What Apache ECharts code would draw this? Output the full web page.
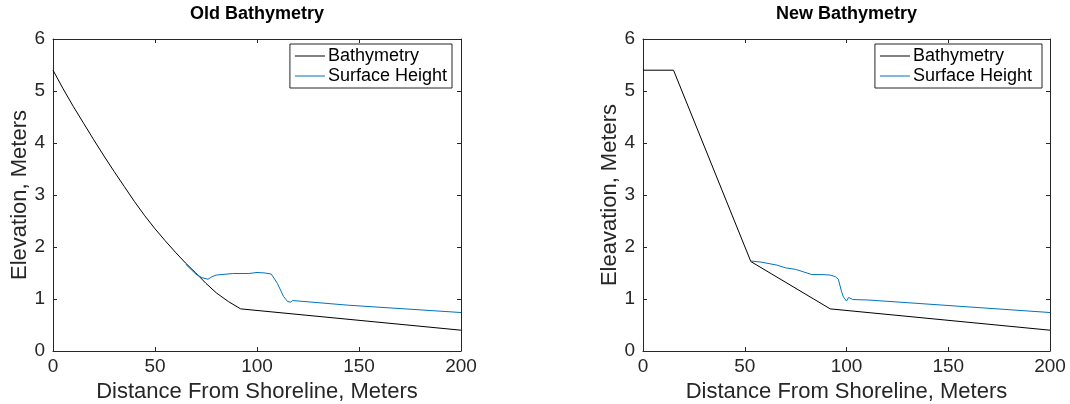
<!DOCTYPE html>
<html>
<head>
<meta charset="utf-8">
<script src="https://cdn.jsdelivr.net/npm/echarts@6/dist/echarts.min.js"></script>
<style>
    html, body {margin: 0; padding: 0; background: #fff;}
    #container {width: 1070px; height: 404px;}
</style>
</head>
<body>
<div id="container"></div>
<script>
// [distance, elevation]
var oldBathymetry = [[0, 5.4], [5, 5.04], [10, 4.7], [15, 4.38], [20, 4.06], [25, 3.75], [30, 3.45],
    [35, 3.16], [40, 2.87], [45, 2.6], [50, 2.35], [55, 2.12], [60, 1.9], [65, 1.69], [70, 1.5],
    [75, 1.3], [80, 1.12], [86, 0.95], [92, 0.81], [200, 0.4]];
var oldSurface = [[65, 1.67], [70, 1.48], [73, 1.41], [76, 1.38], [78, 1.43], [80, 1.46], [88, 1.49],
    [96, 1.49], [100, 1.51], [104, 1.5], [107, 1.48], [110, 1.3], [113, 1.05], [115, 0.95],
    [116.5, 0.94], [117.5, 0.97], [145, 0.88], [200, 0.74]];
var newBathymetry = [[0, 5.4], [15, 5.4], [53, 1.72], [92, 0.81], [200, 0.4]];
var newSurface = [[53, 1.73], [58, 1.71], [62, 1.68], [66, 1.65], [70, 1.6], [75, 1.57], [79, 1.52],
    [83, 1.47], [88, 1.47], [92, 1.46], [94.5, 1.43], [96, 1.38], [97.5, 1.15], [98.5, 1.04],
    [100, 0.96], [101, 1.03], [103, 0.99], [111, 0.98], [200, 0.74]];
var titles = ['Old Bathymetry', 'New Bathymetry'];
var yNames = ['Elevation, Meters', 'Eleavation, Meters'];
var xName = 'Distance From Shoreline, Meters';
var seriesNames = ['Bathymetry', 'Surface Height'];
var xTicks = [0, 50, 100, 150, 200];
var yTicks = [0, 1, 2, 3, 4, 5, 6];

var font = 'Liberation Sans, Arial, Helvetica, sans-serif';
var axisColor = '#262626';
var lineIcon = 'path://M0,0H30V1H0Z';
var panels = [
    {left: 53, width: 408, legendRight: 618, bathy: oldBathymetry, surface: oldSurface},
    {left: 643, width: 407, legendRight: 28, bathy: newBathymetry, surface: newSurface}
];

var options = {
    animation: false,
    title: [],
    legend: [],
    grid: [],
    xAxis: [],
    yAxis: [],
    series: []
};

panels.forEach(function (p, i) {
    // i ? ' ' : '' keeps the two legends apart
    var names = seriesNames.map(function (n) {
        return n + (i ? ' ' : '');
    });
    options.title.push({
        text: titles[i],
        left: p.left + p.width / 2 - 5,
        textAlign: 'center',
        top: 0,
        textStyle: {fontFamily: font, fontSize: 18, fontWeight: 'bold', color: '#000'}
    });
    options.grid.push({left: p.left, top: 39, width: p.width, height: 312, outerBoundsMode: 'none'});
    var axisLine = {show: true, onZero: false, lineStyle: {color: axisColor, width: 1}};
    var tick = {show: true, inside: true, length: 4, lineStyle: {color: axisColor}};
    // bottom/left plus mirrored top/right, like a MATLAB box
    [false, true].forEach(function (mirror) {
        options.xAxis.push({
            type: 'value',
            gridIndex: i,
            position: mirror ? 'top' : 'bottom',
            min: xTicks[0],
            max: xTicks[xTicks.length - 1],
            interval: xTicks[1] - xTicks[0],
            name: mirror ? '' : xName,
            nameLocation: 'middle',
            nameGap: 27,
            nameTextStyle: {fontFamily: font, fontSize: 22, color: axisColor},
            axisLine: axisLine,
            axisTick: tick,
            splitLine: {show: false},
            axisLabel: {show: !mirror, margin: 6, fontFamily: font, fontSize: 19, color: axisColor}
        });
        options.yAxis.push({
            type: 'value',
            gridIndex: i,
            position: mirror ? 'right' : 'left',
            min: yTicks[0],
            max: yTicks[yTicks.length - 1],
            interval: yTicks[1] - yTicks[0],
            name: mirror ? '' : yNames[i],
            nameLocation: 'middle',
            nameGap: 17,
            nameTextStyle: {fontFamily: font, fontSize: 22, color: axisColor},
            axisLine: axisLine,
            axisTick: tick,
            splitLine: {show: false},
            axisLabel: {show: !mirror, margin: 8, fontFamily: font, fontSize: 19, color: axisColor}
        });
    });
    options.legend.push({
        right: p.legendRight,
        top: 44,
        orient: 'vertical',
        align: 'left',
        backgroundColor: '#fff',
        borderColor: axisColor,
        borderWidth: 1,
        borderRadius: 0,
        padding: [3, 5, 3, 5],
        itemWidth: 30,
        itemHeight: 16,
        itemGap: 2,
        textStyle: {fontFamily: font, fontSize: 18, lineHeight: 18, color: '#000', padding: [0, 0, 0, -2]},
        data: [
            {name: names[0], icon: lineIcon},
            {name: names[1], icon: lineIcon}
        ]
    });
    options.series.push({
        name: names[0],
        type: 'line',
        xAxisIndex: i * 2,
        yAxisIndex: i * 2,
        symbol: 'none',
        lineStyle: {color: '#000', width: 1},
        itemStyle: {color: '#000'},
        data: p.bathy
    });
    options.series.push({
        name: names[1],
        type: 'line',
        xAxisIndex: i * 2,
        yAxisIndex: i * 2,
        symbol: 'none',
        lineStyle: {color: '#0072BD', width: 1},
        itemStyle: {color: '#0072BD'},
        data: p.surface
    });
});

var chart = echarts.init(document.getElementById('container'));
chart.setOption(options);
</script>
</body>
</html>
